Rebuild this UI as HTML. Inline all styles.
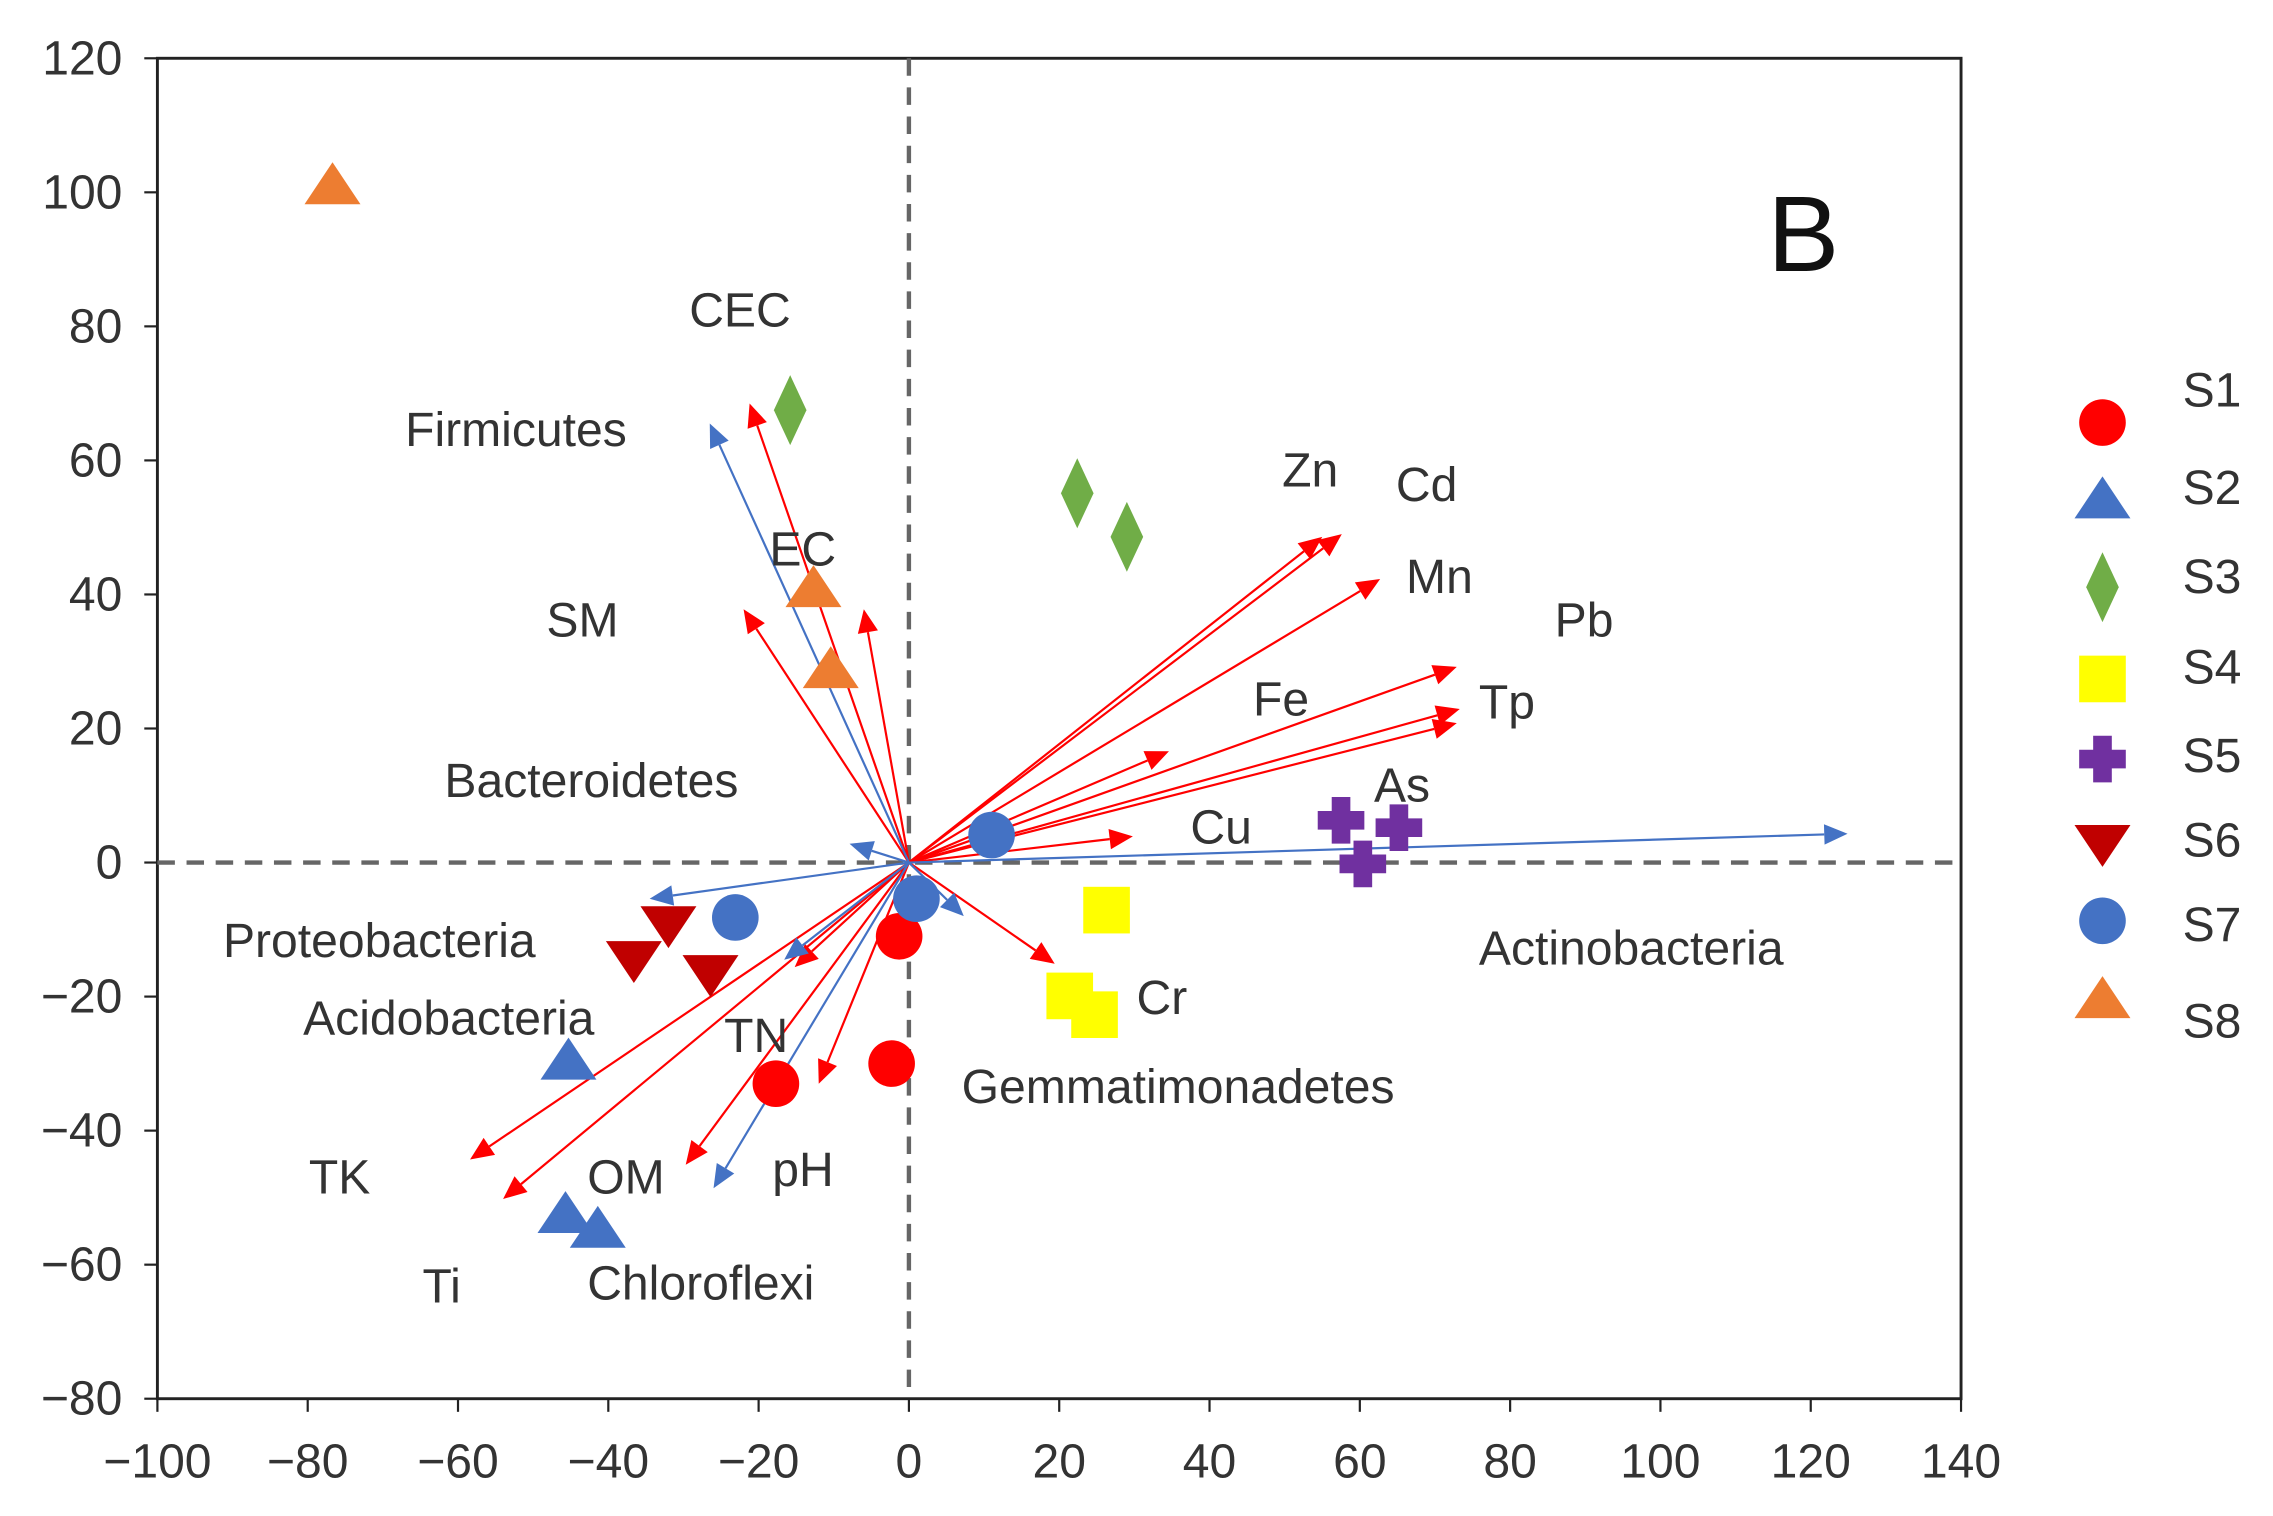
<!DOCTYPE html>
<html><head><meta charset="utf-8"><style>
html,body{margin:0;padding:0;background:#fff;}
svg{display:block;font-family:"Liberation Sans",sans-serif;}
</style></head><body>
<svg id="chart" width="2273" height="1516" viewBox="0 0 1560 1040.5" xmlns="http://www.w3.org/2000/svg">
<g id="axes"></g>
<g id="arrows"></g>
<g id="points"></g>
<g id="labels"></g>
<text x="1213" y="186" font-size="74" fill="#111">B</text>
<g id="legend"></g>
</svg>
<script>
const xTicks=[-100,-80,-60,-40,-20,0,20,40,60,80,100,120,140];
const yTicks=[120,100,80,60,40,20,0,-20,-40,-60,-80];
const seriesNames=["S1","S2","S3","S4","S5","S6","S7","S8"];
const seriesColors=["#ff0000","#4472c4","#70ad47","#ffff00","#7030a0","#c00000","#4472c4","#ed7d31"];
const seriesShapes=["circle","tri","diamond","square","plus","tridown","circle","tri"];
const s1=[[-1.3,-11],[-2.3,-30],[-17.7,-33]];
const s2=[[-45.3,-29.6],[-45.7,-52.5],[-41.4,-54.7]];
const s3=[[-15.8,67.5],[22.4,55.1],[29,48.6]];
const s4=[[26.3,-7.1],[21.4,-19.9],[24.7,-22.7]];
const s5=[[57.5,6.3],[65.2,5.2],[60.4,-0.2]];
const s6=[[-36.6,-14.5],[-32,-9.3],[-26.4,-16.6]];
const s7=[[11,4.1],[-23.1,-8.2],[1,-5.4]];
const s8=[[-76.7,101],[-12.7,40.9],[-10.4,28.8]];
const seriesData=[s1,s2,s3,s4,s5,s6,s7,s8];
const redArrows=[[-21.2,68.5],[-22,37.8],[-6,37.8],[57.6,49],[55,48.6],[62.7,42.3],[72.9,29.2],[73.3,22.9],[72.9,20.8],[34.6,16.6],[29.8,3.9],[19.4,-15.1],[-15.2,-15.6],[-12,-33],[-58.4,-44.3],[-54,-50.2],[-29.7,-45.1]];
const blueArrows=[[-26.5,65.5],[-7.9,2.8],[-34.5,-5.4],[-16.6,-14.5],[-26,-48.6],[124.9,4.3],[7.3,-8]];
const labelTexts=["CEC","Firmicutes","EC","SM","Zn","Cd","Mn","Pb","Fe","Tp","Bacteroidetes","As","Cu","Actinobacteria","Proteobacteria","Cr","Acidobacteria","TN","Gemmatimonadetes","TK","OM","pH","Ti","Chloroflexi"];
const labelPos=[[473,213],[278,295],[528,377],[375,426],[880,323],[958,333],[965,396],[1067,426],[860,480],[1015,482],[305,536],[943,539],[817,568],[1015,651],[153,646],[780,685],[208,699],[497,711],[660,746],[212,808],[403,808],[530,803],[290,883],[403,881]];

const NS="http://www.w3.org/2000/svg";
function X(v){return 108+(v+100)*5.158;}
function Y(v){return 40+(120-v)*4.60;}
function mk(tag,attrs,parent){const e=document.createElementNS(NS,tag);for(const k in attrs)e.setAttribute(k,attrs[k]);parent.appendChild(e);return e;}
const axes=document.getElementById('axes');
let f=mk('rect',{x:X(-100),y:Y(120),width:X(140)-X(-100),height:Y(-80)-Y(120),fill:'none',stroke:'#222','stroke-width':2},axes);


xTicks.forEach(t=>{
  const l=mk('line',{x1:X(t),x2:X(t),y1:Y(-80),y2:Y(-80)+9,stroke:'#222','stroke-width':1.5},axes);
  
  
  const tx=mk('text',{x:X(t),y:1014,'font-size':33,fill:'#333','text-anchor':'middle'},axes);
  tx.textContent=String(t).replace('-','\u2212');
  
  
});
yTicks.forEach(t=>{
  const l=mk('line',{x1:X(-100)-9,x2:X(-100),y1:Y(t),y2:Y(t),stroke:'#222','stroke-width':1.5},axes);
  
  
  const tx=mk('text',{x:84,y:Y(t)+11,'font-size':33,fill:'#333','text-anchor':'end'},axes);
  tx.textContent=String(t).replace('-','\u2212');
  
  
});
let h=mk('line',{x1:X(-100),x2:X(140),y1:Y(0),y2:Y(0),stroke:'#666','stroke-width':3,'stroke-dasharray':'12 8'},axes);


let v=mk('line',{x1:X(0),x2:X(0),y1:Y(120),y2:Y(-80),stroke:'#666','stroke-width':3,'stroke-dasharray':'12 8'},axes);



const ag=document.getElementById('arrows');
function arrow(p,col,name){
  const x0=X(0),y0=Y(0),x1=X(p[0]),y1=Y(p[1]);
  const dx=x1-x0,dy=y1-y0,L=Math.hypot(dx,dy),ux=dx/L,uy=dy/L;
  const hl=16,hw=7,bx=x1-ux*hl,by=y1-uy*hl;
  const g=mk('g',{},ag);
  
  
  mk('line',{x1:x0,y1:y0,x2:bx,y2:by,stroke:col,'stroke-width':1.5},g);
  mk('polygon',{points:`${x1},${y1} ${bx-uy*hw},${by+ux*hw} ${bx+uy*hw},${by-ux*hw}`,fill:col},g);
}
redArrows.forEach(p=>arrow(p,'#ff0000','env-arrow'));
blueArrows.forEach(p=>arrow(p,'#4472c4','taxa-arrow'));

function marker(shape,cx,cy,col,parent,s){
  let e;
  if(shape==='circle')e=mk('circle',{cx:cx,cy:cy,r:s,fill:col},parent);
  else if(shape==='tri')e=mk('polygon',{points:`${cx},${cy-s} ${cx-s*1.2},${cy+s*0.8} ${cx+s*1.2},${cy+s*0.8}`,fill:col},parent);
  else if(shape==='tridown')e=mk('polygon',{points:`${cx},${cy+s} ${cx-s*1.2},${cy-s*0.8} ${cx+s*1.2},${cy-s*0.8}`,fill:col},parent);
  else if(shape==='diamond')e=mk('polygon',{points:`${cx},${cy-s*1.5} ${cx-s*0.7},${cy} ${cx},${cy+s*1.5} ${cx+s*0.7},${cy}`,fill:col},parent);
  else if(shape==='square')e=mk('rect',{x:cx-s,y:cy-s,width:2*s,height:2*s,fill:col},parent);
  else e=mk('path',{d:`M${cx-s*0.4},${cy-s}h${s*0.8}v${s*0.6}h${s*0.6}v${s*0.8}h${-s*0.6}v${s*0.6}h${-s*0.8}v${-s*0.6}h${-s*0.6}v${-s*0.8}h${s*0.6}z`,fill:col},parent);
  return e;
}
const pg=document.getElementById('points');
seriesData.forEach((arr,i)=>{
  arr.forEach(p=>{
    const m=marker(seriesShapes[i],X(p[0]),Y(p[1]),seriesColors[i],pg,16);
    
    
  });
});
const lg=document.getElementById('labels');
labelTexts.forEach((t,i)=>{
  const tx=mk('text',{x:labelPos[i][0],y:labelPos[i][1]+11,'font-size':33,fill:'#333'},lg);
  tx.textContent=t;
  
  
});
const leg=document.getElementById('legend');
const legY=[290,343,403,466,521,579,632,686];
const legTY=[268,335,396,458,519,577,635,701];
seriesNames.forEach((n,i)=>{
  const m=marker(seriesShapes[i],1443,legY[i],seriesColors[i],leg,16);
  
  
  const tx=mk('text',{x:1498,y:legTY[i]+11,'font-size':33,fill:'#333'},leg);
  tx.textContent=n;
  
  
});
</script>
</body></html>
